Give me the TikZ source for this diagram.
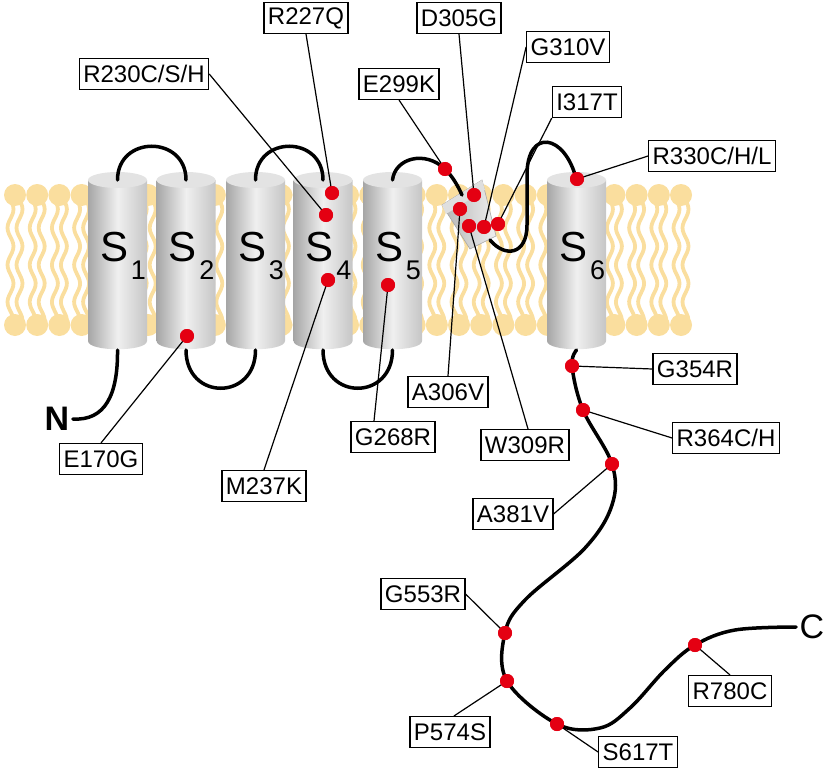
\documentclass[tikz,border=0pt]{standalone}
\usepackage{fontspec}
\setmainfont{Liberation Sans}
\definecolor{lipid}{RGB}{250,222,158}
\definecolor{mutred}{RGB}{228,0,18}
\begin{document}
\begin{tikzpicture}[x=1pt,y=-1pt,
  lab/.style={draw=black,line width=1.1pt,fill=white,font=\fontsize{24}{24}\selectfont,inner xsep=4pt,inner ysep=0pt,minimum height=31pt},
  dot/.style={circle,fill=mutred,inner sep=0pt,minimum size=14pt},
  chain/.style={line width=3.5pt,line cap=round},
  lead/.style={line width=1.2pt},
  tail/.style={lipid,line width=3.8pt}]
\useasboundingbox (0,0) rectangle (826,770);
% membrane tails and heads
\foreach \h in {0,...,30}{
  \pgfmathsetmacro{\hx}{15+22.2*\h}
  \draw[tail] plot[domain=200:320,samples=40] ({\hx-4.5+3*sin((\x-200)*9.7)},\x);
  \draw[tail] plot[domain=200:320,samples=40] ({\hx+4.5+3*sin((\x-200)*9.7)},\x);
  \fill[lipid] (\hx,195) circle[radius=11];
  \fill[lipid] (\hx,325) circle[radius=11];
}
% cylinders
\foreach \c/\n in {117.5/1,186/2,255.5/3,323/4,392.5/5,576.5/6}{
  \shade[left color=gray!70,right color=gray!45,middle color=gray!12]
    (\c-29.5,180) -- (\c-29.5,341) .. controls (\c-29.5,352) and (\c+29.5,352) .. (\c+29.5,341) -- (\c+29.5,180) -- cycle;
  \fill[gray!22] (\c,180) ellipse[x radius=29.5,y radius=8];
  \node[font=\fontsize{42}{42}\selectfont] (s\n) at (\c-3,247) {S};
  \node[font=\fontsize{27}{27}\selectfont] (n\n) at (\c+21,270) {\n};
}
% pore helix
\shade[left color=gray!60,right color=gray!12,draw=gray!70,line width=0.6pt]
  (442,205) -- (482,180) -- (496,236) -- (470,249) -- cycle;
\fill[gray!25] (442,205) -- (482,180) -- (485,190) -- (446,214) -- cycle;
% backbone
\node[font=\bfseries\fontsize{34}{34}\selectfont] (Nt) at (57,419) {N};
\node[font=\fontsize{34}{34}\selectfont] (Ct) at (812,627) {C};
\draw[chain] (Nt.east) .. controls (105,421) and (118,395) .. (117.5,350);
\draw[chain] (117.5,180) .. controls (117.5,135) and (186,135) .. (186,180);
\draw[chain] (186,350) .. controls (186,401) and (255.5,401) .. (255.5,350);
\draw[chain] (255.5,180) .. controls (255.5,135) and (323,135) .. (323,180);
\draw[chain] (323,350) .. controls (323,401) and (392.5,401) .. (392.5,350);
\draw[chain] (392.5,180) .. controls (395,158) and (425,150) .. (445,169) .. controls (452,176) and (457,184) .. (462,195);
\draw[chain] (490,240) .. controls (505,258) and (527,255) .. (527,225) -- (527,175) .. controls (527,128) and (565,133) .. (576.5,180);
\draw[chain] plot[smooth,tension=0.6] coordinates {(576.5,350) (572,366) (583,410) (612,464) (612,505) (585,548) (525,600) (505,633) (507,681) (557,724) (600,728) (630,708) (665,670) (695,645) (735,630) (Ct.west)};
% dots
\foreach \nm/\p in {R227Q/{(332,193)},R230C/{(326,215)},E299K/{(445,169)},D305G/{(474,195)},A306V/{(460,209)},W309R/{(469,226)},G310V/{(484,227)},I317T/{(498,224)},R330C/{(577,179)},M237K/{(328,280)},G268R/{(388,285)},E170G/{(187,336)},G354R/{(572,366)},R364C/{(583,410)},A381V/{(612,464)},G553R/{(505,633)},P574S/{(507,681)},S617T/{(557,724)},R780C/{(695,645)}}
  \node[dot] (d\nm) at \p {};
% labels
\node[lab] (lR227Q) at (306,18) {R227Q};
\node[lab] (lR230C) at (144,74) {R230C/S/H};
\node[lab] (lE299K) at (399,84) {E299K};
\node[lab] (lD305G) at (459,18) {D305G};
\node[lab] (lG310V) at (568,47) {G310V};
\node[lab] (lI317T) at (587,102) {I317T};
\node[lab] (lR330C) at (712,156) {R330C/H/L};
\node[lab] (lE170G) at (101,459) {E170G};
\node[lab] (lM237K) at (264,486) {M237K};
\node[lab] (lG268R) at (393,437) {G268R};
\node[lab] (lA306V) at (448,392) {A306V};
\node[lab] (lW309R) at (525,445) {W309R};
\node[lab] (lG354R) at (695,369) {G354R};
\node[lab] (lR364C) at (726,438) {R364C/H};
\node[lab] (lA381V) at (513,514) {A381V};
\node[lab] (lG553R) at (423,594) {G553R};
\node[lab] (lP574S) at (450,732) {P574S};
\node[lab] (lS617T) at (638,752) {S617T};
\node[lab] (lR780C) at (730,691) {R780C};
% leader lines
\draw[lead] (lR227Q.south) -- (dR227Q.center);
\draw[lead] (lR230C.east) -- (dR230C.center);
\draw[lead] (lE299K.south) -- (dE299K.center);
\draw[lead] (lD305G.south) -- (dD305G.center);
\draw[lead] (lG310V.west) -- (dG310V.center);
\draw[lead] (lI317T.south west) -- (dI317T.center);
\draw[lead] (lR330C.west) -- (dR330C.center);
\draw[lead] (lE170G.north) -- (dE170G.center);
\draw[lead] (lM237K.north) -- (dM237K.center);
\draw[lead] ([xshift=-19pt]lG268R.north) -- (dG268R.center);
\draw[lead] (lA306V.north) -- (dA306V.center);
\draw[lead] ([xshift=3pt]lW309R.north) -- (dW309R.center);
\draw[lead] (lG354R.west) -- (dG354R.center);
\draw[lead] (lR364C.west) -- (dR364C.center);
\draw[lead] (lA381V.east) -- (dA381V.center);
\draw[lead] (lG553R.east) -- (dG553R.center);
\draw[lead] ([xshift=4pt]lP574S.north) -- (dP574S.center);
\draw[lead] (lS617T.west) -- (dS617T.center);
\draw[lead] (lR780C.north) -- (dR780C.center);
% dots on top of leader lines
\foreach \nm in {R227Q,R230C,E299K,D305G,A306V,W309R,G310V,I317T,R330C,M237K,G268R,E170G,G354R,R364C,A381V,G553R,P574S,S617T,R780C}
  \fill[mutred] (d\nm.center) circle[radius=7];
\end{tikzpicture}
\end{document}
